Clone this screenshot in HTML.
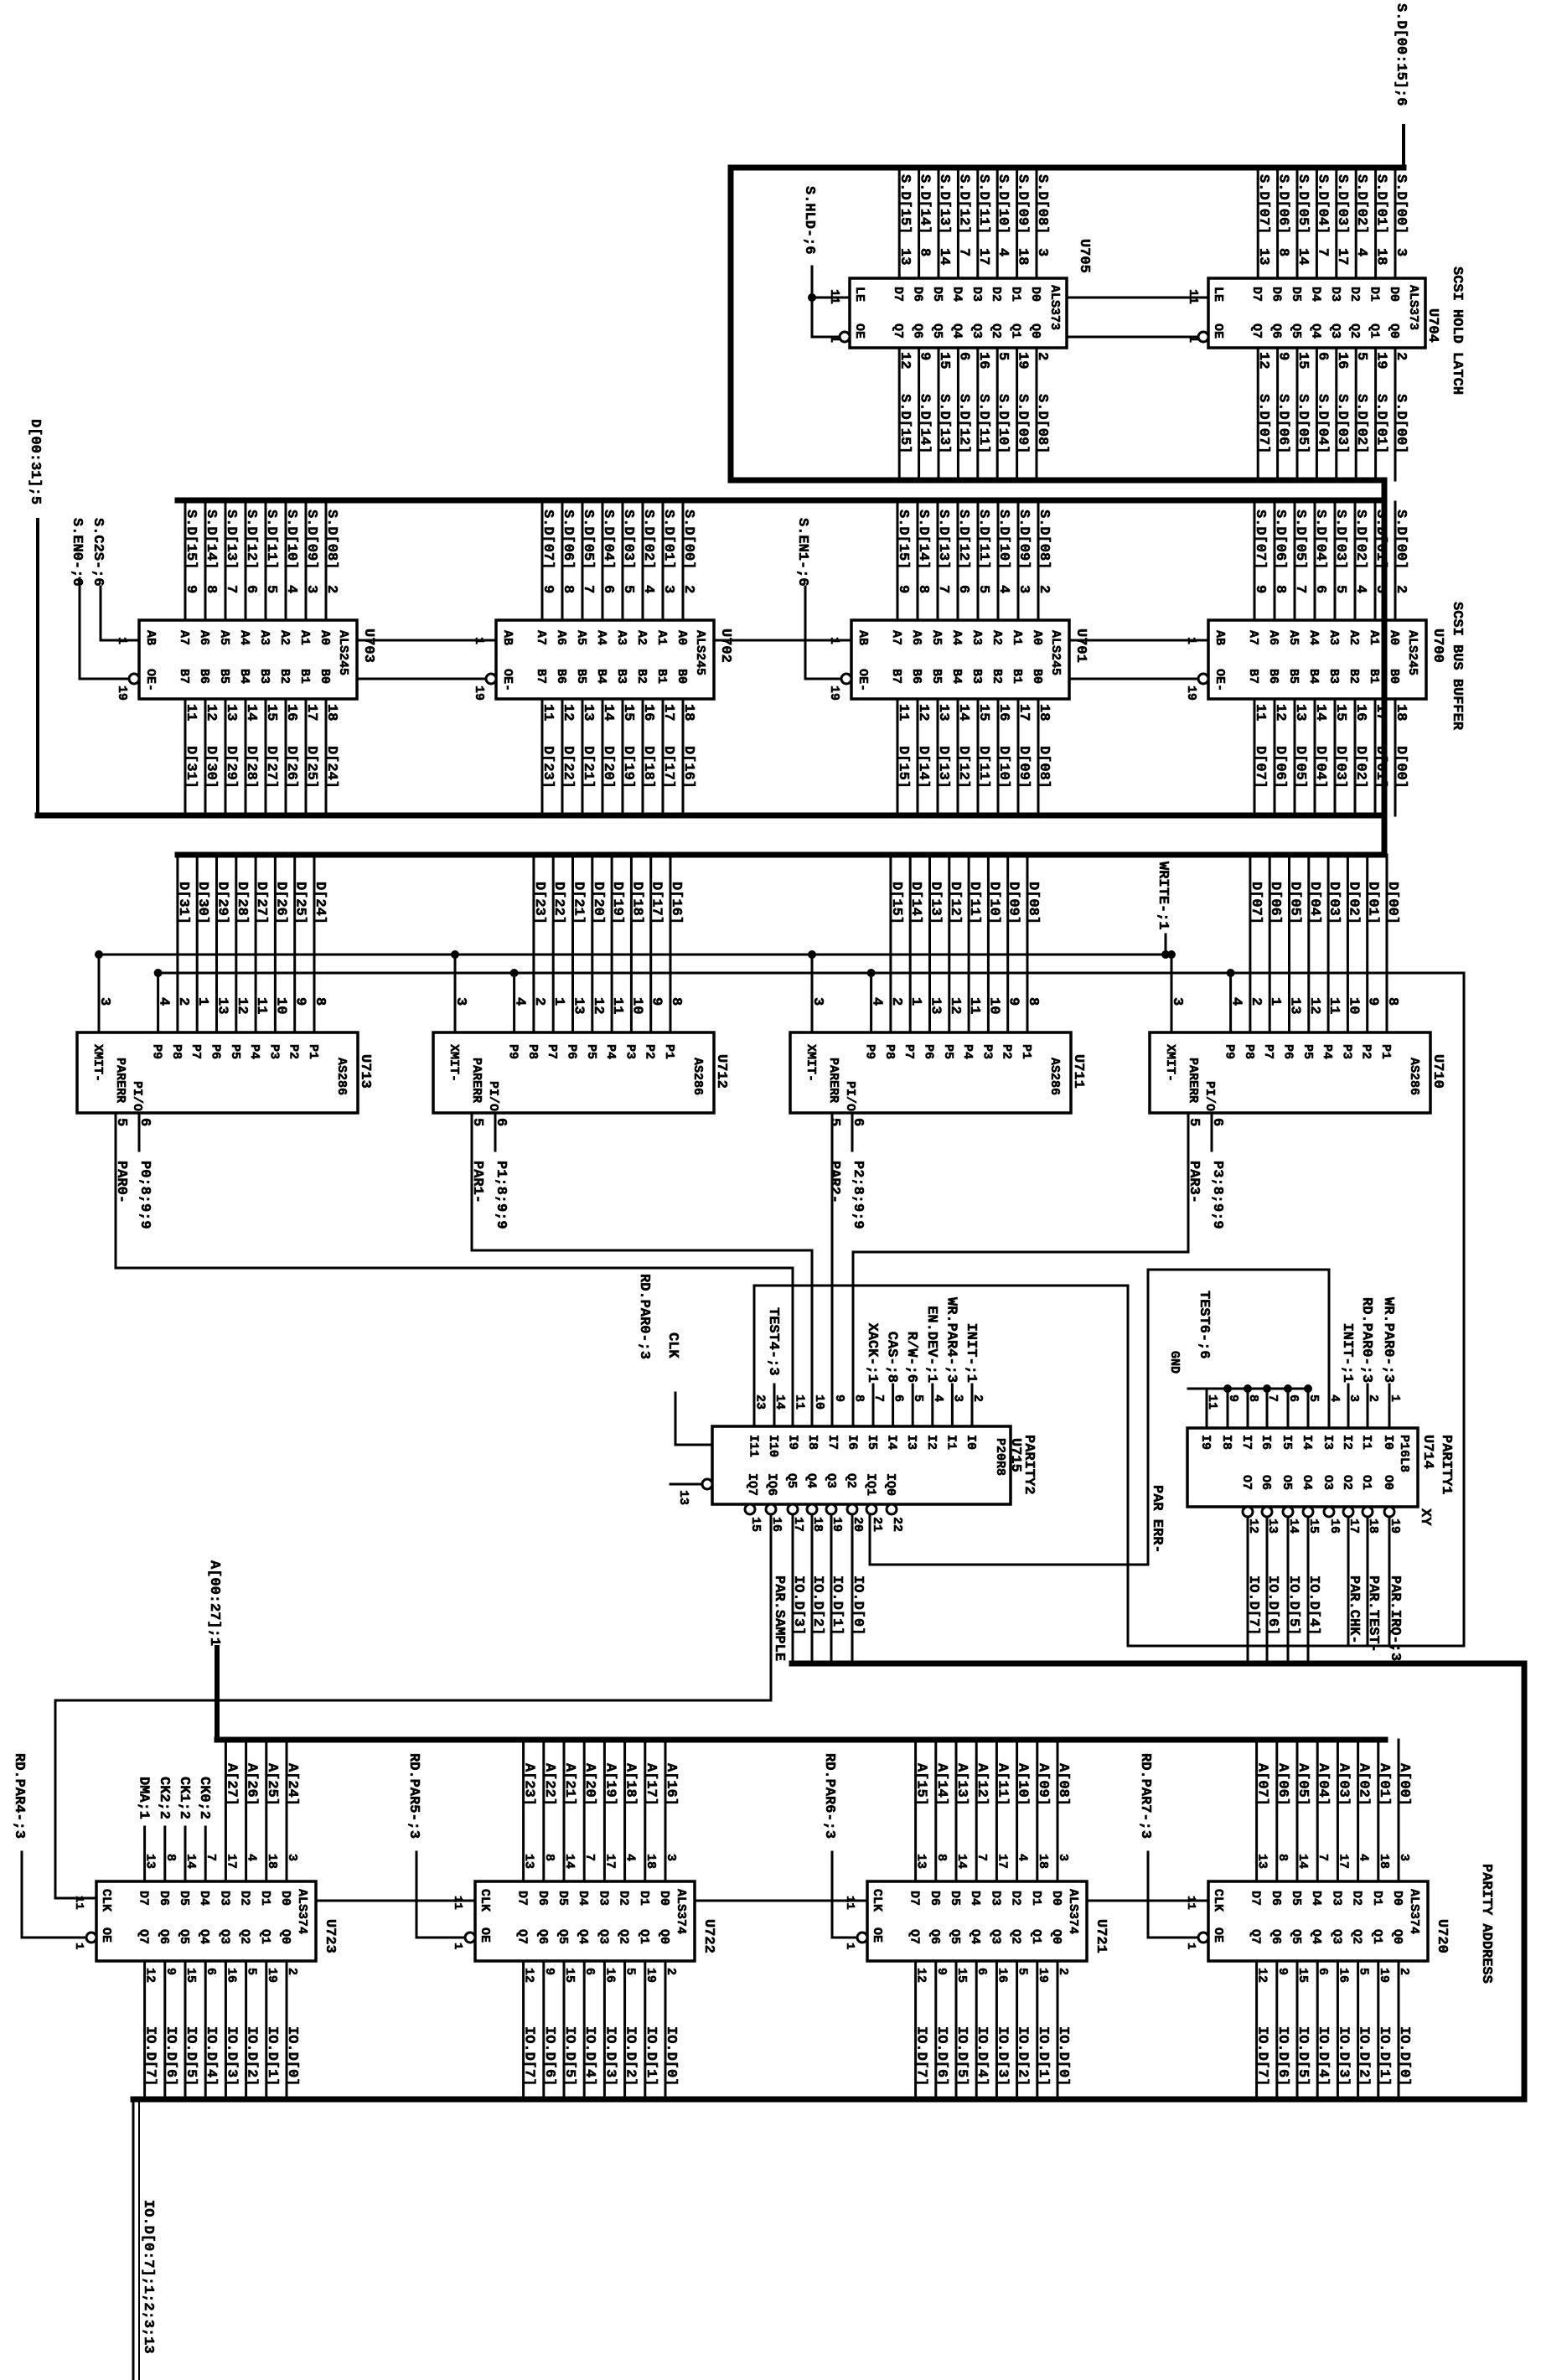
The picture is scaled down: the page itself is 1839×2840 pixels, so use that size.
<!DOCTYPE html>
<html><head><meta charset="utf-8">
<style>
html,body{margin:0;padding:0;background:#fff;}
#c{width:1839px;height:2840px;overflow:hidden;}
svg text{stroke:#000;stroke-width:0.6;fill:#000;font-family:"Liberation Mono",monospace;font-weight:bold;}
</style></head>
<body><div id="c"></div>
<script>
const S=[];
const ln=(a,b,c,d,w=3)=>S.push(`<line x1="${a}" y1="${b}" x2="${c}" y2="${d}" stroke-width="${w}"/>`);
const pl=(p,w=3)=>S.push(`<polyline points="${p}" stroke-width="${w}" fill="none"/>`);
const tx=(x,y,s,fs=17)=>S.push(`<text transform="translate(${x},${y}) rotate(90)" font-size="${fs}">${s}</text>`);
const rc=(x,y,w,h)=>S.push(`<rect x="${x}" y="${y}" width="${w}" height="${h}" fill="none" stroke-width="3.5"/>`);
const bub=(x,y)=>S.push(`<circle cx="${x}" cy="${y}" r="6" fill="#fff" stroke-width="3"/>`);
const dot=(x,y)=>S.push(`<circle cx="${x}" cy="${y}" r="4.5" fill="#000"/>`);
const p2=n=>(n<10?'0':'')+n;

ln(1675,150,1675,200,4);
tx(1668,4,'S.D[00:15];6');
pl("1675,200 872,200 872,573 1652,573 1652,1020",7);
ln(212,597,1652,597,7);
ln(45,973,1652,973,7);
ln(212,1020,1652,1020,7);
ln(45,620,45,973,4);
tx(38,500,'D[00:31];5');
tx(1735,318,'SCSI HOLD LATCH');
tx(1735,718,'SCSI BUS BUFFER');

const tn1=[3,18,4,17,7,14,8,13], bn1=[2,19,5,16,6,15,9,12];
[[1014,8,'U705'],[1442,0,'U704']].forEach(([L,b,nm])=>{
  rc(L,332,259,83);
  for(let i=0;i<8;i++){
    const x=L+259-36-23.4*i;
    ln(x,200,x,332);ln(x,415,x,573);
    tx(x+3,208,'S.D['+p2(b+i)+']');tx(x+3,296,tn1[i]);
    tx(x+3,420,bn1[i]);tx(x+3,470,'S.D['+p2(b+i)+']');
    tx(x-5,342,'D'+i,15);tx(x-5,386,'Q'+i,15);
  }
  tx(L+241,340,'ALS373',15);
  tx(L+8,342,'LE',15);tx(L+8,386,'OE',15);
  tx(L-22,345,'11',15);tx(L-22,400,'1',15);
});
tx(1290,285,'U705');tx(1706,368,'U704');
tx(962,222,'S.HLD-;6');
pl("969,318 969,355 1014,355");pl("969,355 969,402 1002,402");dot(969,355);bub(1008,402);
ln(1273,355,1442,355);ln(1273,402,1430,402);bub(1436,402);

const chips2=[[166,8,24,'U703'],[592,0,16,'U702'],[1016,8,8,'U701'],[1442,0,0,'U700']];
chips2.forEach(([L,sb,db,nm])=>{
  rc(L,740,260,94);
  for(let i=0;i<8;i++){
    const x=L+260-37-24*i;
    ln(x,599,x,740);ln(x,834,x,973);
    tx(x+3,608,'S.D['+p2(sb+i)+']');tx(x+3,698,2+i);
    tx(x+3,840,18-i);tx(x+3,890,'D['+p2(db+i)+']');
    tx(x-5,752,'A'+i,15);tx(x-5,798,'B'+i,15);
  }
  tx(L+240,752,'ALS245',15);
  tx(L+10,752,'AB',15);tx(L+10,798,'OE-',15);
  tx(L-24,760,'1',15);tx(L-24,818,'19',15);
  tx(L+270,750,nm);
});
tx(113,618,'S.C2S-;6');pl("120,700 120,764 166,764");
tx(88,618,'S.EN0-;6');pl("95,690 95,810 154,810");bub(160,810);
ln(427,764,592,764);ln(427,810,580,810);bub(586,810);
ln(852,764,1016,764);
tx(954,618,'S.EN1-;6');pl("961,700 961,810 1004,810");bub(1010,810);
ln(1276,764,1442,764);ln(1276,810,1430,810);bub(1436,810);

ln(115,1139,1391,1139);ln(187,1161,1747,1161);
tx(1384,1028,'WRITE-;1');ln(1391,1115,1391,1139);dot(1391,1139);
const tn3=['8','9','10','11','12','13','1','2','4'];
const chips3=[[92,24,'U713','P0;8;9;9','PAR0-'],[517,16,'U712','P1;8;9;9','PAR1-'],[943,8,'U711','P2;8;9;9','PAR2-'],[1372,0,'U710','P3;8;9;9','PAR3-']];
chips3.forEach(([L,db,nm,a,b])=>{
  rc(L,1232,335,96);
  for(let i=0;i<9;i++){
    const x=L+335-52-23.3*i;
    if(i<8){ln(x,1020,x,1232);tx(x+3,1052,'D['+p2(db+i)+']');}
    else{ln(x,1161,x,1232);dot(x,1161);}
    tx(x+3,1190,tn3[i]);
    tx(x-5,1246,'P'+(i+1),15);
  }
  const x3=L+26;ln(x3,1139,x3,1232);dot(x3,1139);tx(x3+3,1190,'3');
  tx(x3-5,1246,'XMIT-',15);tx(L+48,1262,'PARERR',15);tx(L+68,1290,'PI/O',15);
  tx(L+312,1262,'AS286',15);tx(L+340,1258,nm);
  const p5=L+46,p6=L+74;
  ln(p6,1328,p6,1373);tx(p5+3,1334,'5');tx(p6+3,1334,'6');
  tx(p6+3,1385,a);tx(p5+3,1385,b);
});
pl("138,1328 138,1513 946,1513 946,1702");
pl("563,1328 563,1492 969,1492 969,1702");
pl("993,1328 993,1702");
pl("1418,1328 1418,1494 1018,1494 1018,1702");
pl("1747,1161 1747,1964 1346,1964 1346,1534 900,1534 900,1702");
pl("1038,1801 1038,1867 1370,1867 1370,1515 1586,1515 1586,1704");
tx(1377,1772,'PAR ERR-');

rc(850,1702,356,93);
const t15=[2,3,4,5,6,7,8,9,10,11,14,23];
const l15=['INIT-;1','WR.PAR4-;3','EN.DEV-;1','R/W-;6','CAS-;8','XACK-;1'];
for(let i=0;i<12;i++){
  const x=1160-23.6*i;
  if(i<6){ln(x,1652,x,1702);tx(x-5,1650-l15[i].length*10.2,l15[i]);}
  if(i==10){ln(x,1652,x,1702);tx(x-5,1560,'TEST4-;3');}
  tx(x+3,1664,t15[i],15);
  tx(x-5,1712,'I'+i,15);
}
['IQ0','IQ1','Q2','Q3','Q4','Q5','IQ6','IQ7'].forEach((s,i)=>tx(1064-23.6*i-5,1758,s,15));
tx(1224,1712,'PARITY2');tx(1208,1716,'U715');tx(1190,1716,'P20R8',15);
tx(799,1590,'CLK');pl("806,1662 806,1724 850,1724");
pl("800,1771 838,1771");bub(844,1771);tx(812,1778,'13',15);
tx(765,1520,'RD.PAR0-;3');
const bx15=[1064,1040,1017,992,969,946,920,895],bn15=[22,21,20,19,18,17,16,15];
bx15.forEach((x,i)=>{
  bub(x,1801);tx(x+3,1810,bn15[i],15);
  if(i>=2&&i<=5){ln(x,1807,x,1985);tx(x+3,1880,'IO.D['+(i-2)+']');}
});
pl("920,1807 920,2029 66,2029 66,2265 115,2265");
tx(926,1880,'PAR.SAMPLE');

rc(1417,1704,275,94);
const x14=[1658,1632,1609,1586,1561,1537,1512,1489,1465,1440],t14=[1,2,3,4,5,6,7,8,9,11];
const l14=['WR.PAR0-;3','RD.PAR0-;3','INIT-;1'];
x14.forEach((x,i)=>{
  if(i<3){ln(x,1652,x,1704);tx(x-5,1650-l14[i].length*10.2,l14[i]);}
  if(i>=4){ln(x,1657,x,1704);if(i<9)dot(x,1657);}
  tx(x+3,1664,t14[i],15);
  tx(x-5,1712,'I'+i,15);
});
ln(1418,1657,1561,1657);tx(1398,1612,'GND',15);tx(1433,1540,'TEST6-;6');
tx(1672,1712,'P16L8',15);tx(1700,1712,'U714');tx(1722,1712,'PARITY1');tx(1697,1800,'XY');
const b14=[19,18,17,16,15,14,13,12],l14b=['PAR.IRQ-;3','PAR.TEST-','PAR.CHK-','','IO.D[4]','IO.D[5]','IO.D[6]','IO.D[7]'];
for(let i=0;i<8;i++){
  const x=x14[i];bub(x,1804);tx(x+3,1812,b14[i],15);
  tx(x-5,1760,'O'+i,15);
  if(i<3){ln(x,1810,x,1964);tx(x+3,1880,l14b[i]);}
  else if(i>=4){ln(x,1810,x,1985);tx(x+3,1880,l14b[i]);}
}
ln(1629,1964,1747,1964);

pl("945,1985 1819,1985 1819,2505 159,2505",7);
ln(159,2505,159,2840,3);ln(166,2505,166,2840,2);
tx(173,2625,'IO.D[0:7];1;2;3;13');
ln(259,1966,259,2076,6);tx(252,1862,'A[00:27];1');
ln(259,2076,1653,2076,7);
tx(1770,2224,'PARITY ADDRESS');

const tn5=[3,18,4,17,7,14,8,13],bn5=[2,19,5,16,6,15,9,12];
const chips5=[[115,24,'U723','RD.PAR4-;3',26],[567,16,'U722','RD.PAR5-;3',497],[1035,8,'U721','RD.PAR6-;3',993],[1442,0,'U720','RD.PAR7-;3',1370]];
chips5.forEach(([L,ab,nm,rd,rx])=>{
  rc(L,2245,262,95);
  for(let i=0;i<8;i++){
    const x=L+262-35-24.2*i;
    let lab;
    if(ab===24&&i>=4){lab=['CK0;2','CK1;2','CK2;2','DMA;1'][i-4];ln(x,2180,x,2245);tx(x-5,2120,lab);}
    else{lab='A['+p2(ab+i)+']';ln(x,2076,x,2245);tx(x+3,2104,lab);}
    tx(x+3,2212,tn5[i],15);
    ln(x,2340,x,2505);tx(x+3,2348,bn5[i],15);tx(x+3,2418,'IO.D['+i+']');
    tx(x-5,2256,'D'+i,15);tx(x-5,2302,'Q'+i,15);
  }
  tx(L+242,2254,'ALS374',15);
  tx(L+8,2254,'CLK',15);tx(L+8,2300,'OE',15);
  tx(L+275,2290,nm);
  tx(rx-7,2092,rd);
  pl(`${rx},2210 ${rx},2312 ${L-12},2312`);bub(L-6,2312);
  tx(L-24,2262,'11',14);tx(L-24,2318,'1',14);
});
ln(377,2268,567,2268);ln(829,2268,1035,2268);ln(1297,2268,1442,2268);

document.getElementById('c').innerHTML=
 `<svg xmlns="http://www.w3.org/2000/svg" width="1839" height="2840" viewBox="0 0 1839 2840"><rect width="1839" height="2840" fill="#fff"/><g stroke="#000" stroke-linecap="square">${S.join('')}</g></svg>`;
</script>
</body></html>
